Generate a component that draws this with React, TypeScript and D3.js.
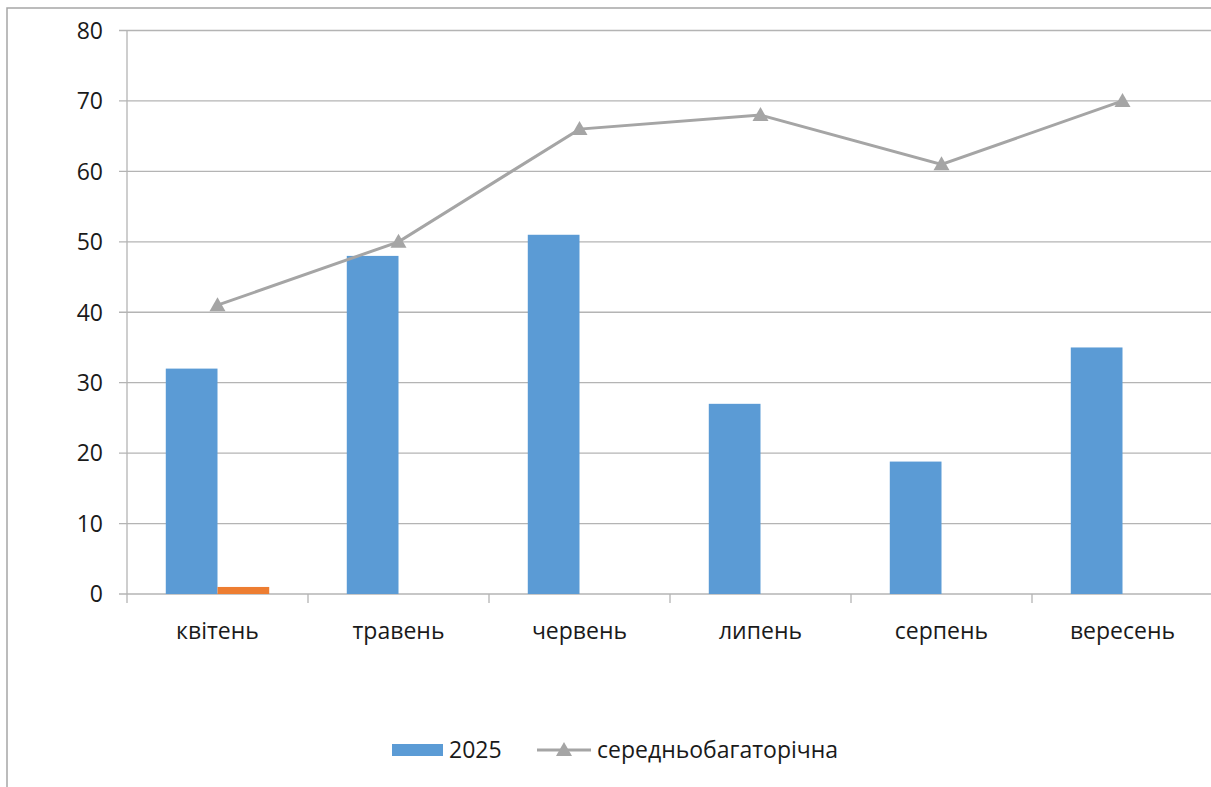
import React from "react";
import * as d3 from "d3";

const months = ["квітень", "травень", "червень", "липень", "серпень", "вересень"];
const values2025 = [32, 48, 51, 27, 18.8, 35];
const valuesSecond = [1, 0, 0, 0, 0, 0];
const longTermMean = [41, 50, 66, 68, 61, 70];
const yTicks = [0, 10, 20, 30, 40, 50, 60, 70, 80];

const W = 1211;
const H = 787;
const plot = { left: 127, right: 1213, top: 30.5, bottom: 594 };
const FONT = "'Open Sans', 'Noto Sans', sans-serif";
const FS = 23;

export default function App() {
  const x = d3.scaleBand<string>().domain(months).range([plot.left, plot.right]);
  const y = d3.scaleLinear().domain([0, 80]).range([plot.bottom, plot.top]);
  const bw = x.bandwidth();
  const barW = bw / 3.5;
  const gap = (bw - 2 * barW) / 2;
  const cx = (m: string) => (x(m) as number) + bw / 2;

  const line = d3
    .line<number>()
    .x((_, i) => cx(months[i]))
    .y((d) => y(d));

  const tri = (px: number, py: number, s = 8) =>
    `M${px},${py - s}L${px + s},${py + s * 0.75}L${px - s},${py + s * 0.75}Z`;

  return (
    <svg
      width={W}
      height={H}
      style={{ position: "absolute", left: 0, top: 0, background: "#fff" }}
      fontFamily={FONT}
    >
      <rect x={7} y={8} width={W + 20} height={H + 20} fill="#fff" stroke="#a6a6a6" strokeWidth={1.5} />

      {/* horizontal gridlines and y tick marks */}
      {yTicks.map((t) => (
        <g key={t}>
          <line x1={119} x2={plot.right} y1={y(t)} y2={y(t)} stroke="#b4b4b4" strokeWidth={1.3} />
          <text x={103} y={y(t)} dy="0.36em" textAnchor="end" fontSize={FS} fill="#1a1a1a">
            {t}
          </text>
        </g>
      ))}
      <line x1={plot.left} x2={plot.left} y1={plot.top} y2={plot.bottom + 9} stroke="#b4b4b4" strokeWidth={1.3} />
      {months.map((m, i) =>
        i > 0 ? (
          <line key={m} x1={x(m)} x2={x(m)} y1={plot.bottom} y2={plot.bottom + 9} stroke="#b4b4b4" strokeWidth={1.3} />
        ) : null
      )}

      {/* bars */}
      {months.map((m, i) => (
        <g key={m}>
          <rect
            x={(x(m) as number) + gap}
            y={y(values2025[i])}
            width={barW}
            height={y(0) - y(values2025[i])}
            fill="#5b9bd5"
          />
          {valuesSecond[i] > 0 && (
            <rect
              x={(x(m) as number) + gap + barW}
              y={y(valuesSecond[i])}
              width={barW}
              height={y(0) - y(valuesSecond[i])}
              fill="#ed7d31"
            />
          )}
        </g>
      ))}

      {/* long-term mean line */}
      <path d={line(longTermMean) ?? ""} fill="none" stroke="#a5a5a5" strokeWidth={3} />
      {longTermMean.map((v, i) => (
        <path key={i} d={tri(cx(months[i]), y(v))} fill="#a5a5a5" />
      ))}

      {/* x labels */}
      {months.map((m) => (
        <text key={m} x={cx(m)} y={631} dy="0.36em" textAnchor="middle" fontSize={FS} fill="#1a1a1a">
          {m}
        </text>
      ))}

      {/* legend */}
      <rect x={392} y={744} width={51} height={12} fill="#5b9bd5" />
      <text x={449} y={750} dy="0.36em" fontSize={FS} fill="#1a1a1a">
        2025
      </text>
      <line x1={537} x2={591} y1={750} y2={750} stroke="#a5a5a5" strokeWidth={3} />
      <path d={tri(564, 750)} fill="#a5a5a5" />
      <text x={597} y={750} dy="0.36em" fontSize={FS} fill="#1a1a1a">
        середньобагаторічна
      </text>
    </svg>
  );
}
